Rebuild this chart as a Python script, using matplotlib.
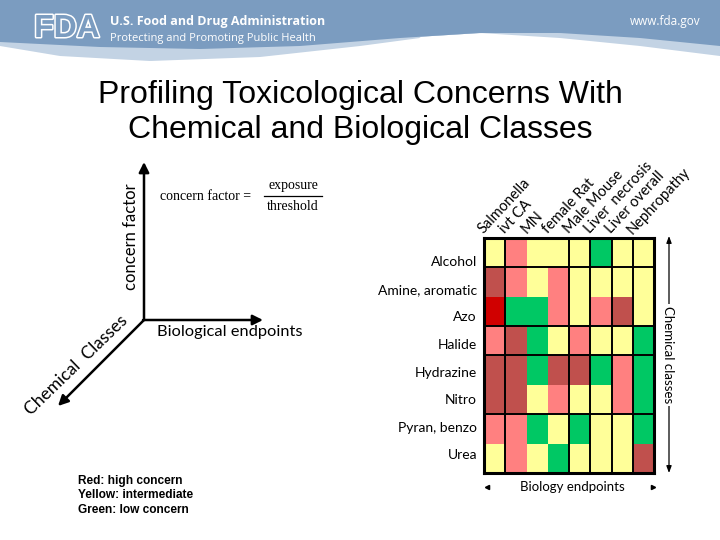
import numpy as np
import matplotlib
matplotlib.use("Agg")
import matplotlib.pyplot as plt
from matplotlib.colors import ListedColormap, BoundaryNorm
import matplotlib.patheffects as pe

# ---------------- data ----------------
endpoints = ["Salmonella", "ivt CA", "MN", "female Rat", "Male Mouse",
             "Liver  necrosis", "Liver overall", "Nephropathy"]
chem_classes = ["Alcohol", "Amine, aromatic", "Azo", "Halide", "Hydrazine",
                "Nitro", "Pyran, benzo", "Urea"]
# concern level codes: 0 low (green), 1 intermediate (yellow),
# 2 high (light red), 3 higher (dark red), 4 highest (red)
concern = [
    [1, 2, 1, 1, 1, 0, 1, 1],   # Alcohol
    [3, 2, 1, 2, 1, 1, 1, 1],   # Amine, aromatic
    [4, 0, 0, 2, 1, 2, 3, 1],   # Azo
    [2, 3, 0, 1, 2, 1, 1, 0],   # Halide
    [3, 3, 0, 3, 3, 0, 2, 0],   # Hydrazine
    [3, 3, 1, 2, 1, 1, 2, 0],   # Nitro
    [2, 2, 0, 1, 0, 1, 1, 0],   # Pyran, benzo
    [1, 2, 1, 0, 1, 1, 1, 3],   # Urea
]
level_colors = ["#00c864", "#ffff99", "#ff8080", "#c0504d", "#d00000"]
row_groups = [1, 3, 4, 6]          # boundaries drawn with black lines
col_groups = [1, 4, 5, 6, 7]
legend_lines = ["Red: high concern", "Yellow: intermediate", "Green: low concern"]

W, H = 720, 540
fig = plt.figure(figsize=(W / 100, H / 100), dpi=100)
fig.patch.set_facecolor("white")
bg = fig.add_axes([0, 0, 1, 1])
bg.set_xlim(0, W)
bg.set_ylim(H, 0)
bg.axis("off")

# ---------------- header band ----------------
xs = np.linspace(0, W, 300)
kx = [0, 100, 200, 300, 400, 480, 560, 640, 720]
ky = [42, 47, 49, 46, 38, 33, 33, 38, 46]
edge = np.interp(xs, kx, ky)
light_l = np.interp(xs, [0, 60, 150, 260, 360, 420], [46, 56, 61, 57, 46, 38])
light_r = np.interp(xs, [480, 560, 640, 720], [33, 38, 46, 56])
bg.fill_between(xs, 0, np.maximum(edge, np.where(xs < 420, light_l, 0)),
                color="#c3d3e4", lw=0, zorder=1)
bg.fill_between(xs, 0, np.maximum(edge, np.where(xs > 480, light_r, 0)),
                color="#c3d3e4", lw=0, zorder=1)
bg.fill_between(xs, 0, edge, color="#7b9cc0", lw=0, zorder=2)

bg.text(67, 29, "FDA", color="#7b9cc0", fontsize=23, fontweight="bold",
        family="Liberation Sans", ha="center", va="center", zorder=3,
        path_effects=[pe.withStroke(linewidth=2.2, foreground="white")])
bg.text(110, 22, "U.S. Food and Drug Administration", color="white",
        fontsize=9, fontweight="bold", family="Open Sans", va="center", zorder=3)
bg.text(110, 38, "Protecting and Promoting Public Health", color="white",
        fontsize=8, family="Open Sans", va="center", zorder=3)
bg.text(700, 22, "www.fda.gov", color="white", fontsize=8.5,
        family="Open Sans", va="center", ha="right", zorder=3)

# ---------------- title ----------------
bg.text(360, 95, "Profiling Toxicological Concerns With", fontsize=23,
        family="Liberation Sans", ha="center", va="center")
bg.text(360, 130, "Chemical and Biological Classes", fontsize=23,
        family="Liberation Sans", ha="center", va="center")

# ---------------- 3D axes sketch ----------------
ox, oy = 144, 320
akw = dict(arrowstyle="-|>,head_length=0.6,head_width=0.3", color="black", lw=1.8,
           shrinkA=0, shrinkB=0)
bg.annotate("", xy=(ox, 162), xytext=(ox, oy), arrowprops=akw)
bg.annotate("", xy=(263, oy), xytext=(ox - 1, oy), arrowprops=akw)
bg.annotate("", xy=(58, 406), xytext=(ox, oy), arrowprops=akw)
bg.text(131, 237, "concern factor", rotation=90, fontsize=12, family="Lato",
        ha="center", va="center")
bg.text(157, 332, "Biological endpoints", fontsize=11.8, family="Lato",
        ha="left", va="center")
bg.text(76, 365, "Chemical  Classes", rotation=44, fontsize=12.5, family="Lato",
        ha="center", va="center")
# formula
bg.text(160, 196, "concern factor =", fontsize=10, family="Liberation Serif",
        ha="left", va="center")
bg.plot([264, 322], [196, 196], color="black", lw=0.9)
bg.text(293, 186, "exposure", fontsize=10, family="Liberation Serif",
        ha="center", va="center")
bg.text(293, 207, "threshold", fontsize=10, family="Liberation Serif",
        ha="center", va="center")

# legend text
for i, line in enumerate(legend_lines):
    bg.text(78, 481 + 14.5 * i, line, fontsize=8.6, fontweight="bold",
            family="Liberation Sans", ha="left", va="center")

# ---------------- heatmap ----------------
gx0, gy0, gx1, gy1 = 484, 238, 654, 473
axh = fig.add_axes([gx0 / W, 1 - gy1 / H, (gx1 - gx0) / W, (gy1 - gy0) / H])
data = np.array(concern)
nr, nc = data.shape
cmap = ListedColormap(level_colors)
norm = BoundaryNorm(np.arange(-0.5, len(level_colors) + 0.5), cmap.N)
axh.pcolormesh(np.arange(nc + 1), np.arange(nr + 1), data, cmap=cmap, norm=norm)
axh.set_xlim(0, nc)
axh.set_ylim(nr, 0)
axh.set_xticks([])
axh.set_yticks([])
for s in axh.spines.values():
    s.set_linewidth(2.2)
for r in row_groups:
    axh.axhline(r, color="black", lw=1.4)
for c in col_groups:
    axh.axvline(c, color="black", lw=1.4)

for j, name in enumerate(endpoints):
    axh.text(j + 0.1, -0.05, name, rotation=47, rotation_mode="anchor",
             ha="left", va="bottom", fontsize=10.5, family="Lato", clip_on=False)
for i, name in enumerate(chem_classes):
    axh.text(-0.33, 0.82 + 0.94 * i, name, ha="right", va="center",
             fontsize=10, family="Lato", clip_on=False)

# right side arrow + label
bg.annotate("", xy=(669, 236), xytext=(669, 473),
            arrowprops=dict(arrowstyle="<|-|>,head_length=0.4,head_width=0.15",
                            color="black", lw=0.9, shrinkA=0, shrinkB=0))
bg.text(668, 355, "Chemical classes", rotation=-90, fontsize=9.5, family="Lato",
        ha="center", va="center",
        bbox=dict(facecolor="white", edgecolor="none", pad=2))

# bottom label
bg.plot([487], [487], marker="<", ms=3, color="black")
bg.plot([653], [487], marker=">", ms=3, color="black")
bg.text(572, 487, "Biology endpoints", fontsize=9.5, family="Lato",
        ha="center", va="center")

fig.savefig("out.png", dpi=100, facecolor="white")
